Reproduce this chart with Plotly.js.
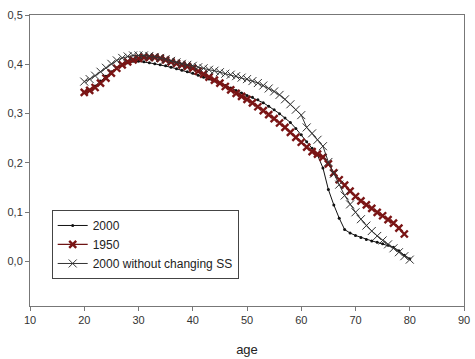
<!DOCTYPE html>
<html>
<head>
<meta charset="utf-8">
<script src="https://cdn.plot.ly/plotly-3.0.1.min.js"></script>
<style>
  html, body { margin: 0; padding: 0; background: #fff; }
  #chart { width: 475px; height: 359px; }
</style>
</head>
<body>
<div id="chart"></div>
<script>
// Ages (years)
const ages2000 = [20,21,22,23,24,25,26,27,28,29,30,31,32,33,34,35,36,37,38,39,40,
  41,42,43,44,45,46,47,48,49,50,51,52,53,54,55,56,57,58,59,60,
  61,62,63,64,65,66,67,68,69,70,71,72,73,74,75,76,77,78,79,80];
const ages1950 = [20,21,22,23,24,25,26,27,28,29,30,31,32,33,34,35,36,37,38,39,40,
  41,42,43,44,45,46,47,48,49,50,51,52,53,54,55,56,57,58,59,60,
  61,62,63,64,65,66,67,68,69,70,71,72,73,74,75,76,77,78,79];
const agesNoSS = ages2000;

// Series values
const values2000 = [0.343,0.348,0.356,0.366,0.376,0.385,0.393,0.399,0.403,0.406,0.406,
  0.405,0.403,0.401,0.399,0.397,0.394,0.391,0.388,0.385,0.382,
  0.378,0.374,0.370,0.366,0.362,0.357,0.352,0.347,0.342,0.337,
  0.333,0.328,0.322,0.315,0.308,0.300,0.291,0.282,0.270,0.257,
  0.243,0.230,0.216,0.190,0.146,0.115,0.088,0.065,0.058,0.053,
  0.049,0.045,0.042,0.039,0.036,0.033,0.029,0.022,0.013,0.006];
const values1950 = [0.343,0.347,0.353,0.362,0.372,0.382,0.392,0.399,0.405,0.409,0.412,
  0.414,0.414,0.414,0.412,0.409,0.405,0.402,0.399,0.396,0.392,
  0.386,0.380,0.374,0.368,0.362,0.355,0.348,0.341,0.335,0.329,
  0.322,0.314,0.306,0.298,0.290,0.281,0.272,0.262,0.252,0.242,
  0.232,0.223,0.218,0.212,0.198,0.180,0.166,0.155,0.143,0.132,
  0.123,0.115,0.108,0.100,0.093,0.085,0.078,0.068,0.056];
const valuesNoSS = [0.365,0.370,0.377,0.385,0.393,0.401,0.408,0.413,0.416,0.418,0.418,
  0.418,0.417,0.415,0.413,0.410,0.407,0.404,0.401,0.399,0.397,
  0.394,0.392,0.389,0.387,0.384,0.381,0.379,0.376,0.373,0.370,
  0.366,0.362,0.357,0.351,0.345,0.338,0.329,0.319,0.308,0.297,
  0.272,0.260,0.247,0.234,0.202,0.178,0.156,0.134,0.116,0.100,
  0.086,0.073,0.062,0.052,0.043,0.035,0.027,0.019,0.011,0.004];

const seriesNames = ['2000', '1950', '2000 without changing SS'];
const xTicks = [10,20,30,40,50,60,70,80,90];
const yTicks = [0,0.1,0.2,0.3,0.4,0.5];

const traces = [
  {
    x: ages2000, y: values2000, name: seriesNames[0],
    type: 'scatter', mode: 'lines+markers',
    line: {color: '#111', width: 1},
    marker: {symbol: 'circle', size: 3, color: '#111'}
  },
  {
    x: ages1950, y: values1950, name: seriesNames[1],
    type: 'scatter', mode: 'lines+markers',
    line: {color: '#6e1414', width: 1.2},
    marker: {symbol: 'x-thin', size: 7, line: {color: '#7a1515', width: 2.4}}
  },
  {
    x: agesNoSS, y: valuesNoSS, name: seriesNames[2],
    type: 'scatter', mode: 'lines+markers',
    line: {color: '#333', width: 1},
    marker: {symbol: 'x-thin', size: 8, line: {color: '#333', width: 1}}
  }
];

const layout = {
  width: 475, height: 359,
  margin: {l: 30, r: 11, t: 15, b: 53},
  paper_bgcolor: '#fff', plot_bgcolor: '#fff',
  separators: ',.',
  font: {family: 'Liberation Sans, Arial, sans-serif', size: 11, color: '#333'},
  showlegend: true,
  legend: {
    x: 0.05, y: 0.33, xanchor: 'left', yanchor: 'top',
    bgcolor: '#fff', bordercolor: '#444', borderwidth: 1,
    font: {size: 12, color: '#222'},
    tracegroupgap: 0, itemwidth: 30
  },
  xaxis: {
    range: [10, 90], tickvals: xTicks,
    showline: true, mirror: true, linecolor: '#777', linewidth: 1,
    ticks: 'outside', ticklen: 4, tickcolor: '#777',
    showgrid: false, zeroline: false,
    title: {text: 'age', font: {size: 13, color: '#222'}, standoff: 19}
  },
  yaxis: {
    range: [-0.09, 0.5], tickvals: yTicks, tickformat: '.1f',
    showline: true, mirror: true, linecolor: '#777', linewidth: 1,
    ticks: 'outside', ticklen: 4, tickcolor: '#777',
    showgrid: false, zeroline: false
  }
};

Plotly.newPlot('chart', traces, layout, {displayModeBar: false, staticPlot: true});
</script>
</body>
</html>
